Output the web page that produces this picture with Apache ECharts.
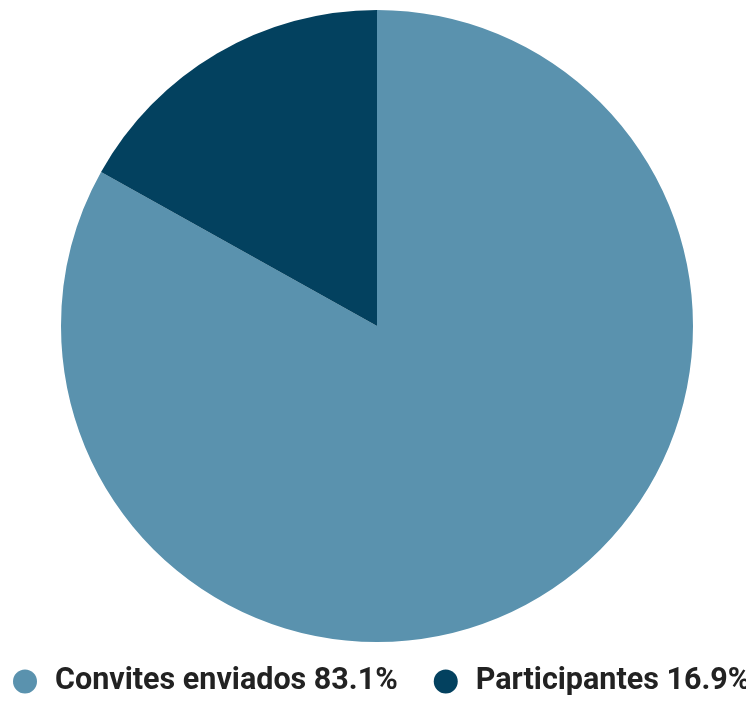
<!DOCTYPE html>
<html><head><meta charset="utf-8">
<script src="https://cdn.jsdelivr.net/npm/echarts@6/dist/echarts.min.js"></script>
<style>html,body{margin:0;padding:0;background:#fff}#c{width:746px;height:702px}</style>
</head><body><div id="c"></div>
<script>
const categories = ['Convites enviados', 'Participantes'];
const values = [83.1, 16.9];
const colors = ['#5a92ae', '#03415f'];
const chart = echarts.init(document.getElementById('c'));
chart.setOption({
  animation: false,
  legend: {
    top: 666,
    left: 13,
    width: 900,
    padding: 0,
    icon: 'circle',
    itemWidth: 24,
    itemHeight: 24,
    itemGap: 36,
    textStyle: {fontFamily: 'Roboto', fontWeight: 'bold', fontSize: 30.5, color: '#222', padding: [0, 0, 0, 13]},
    formatter: function (name) {
      const i = categories.indexOf(name);
      return name + ' ' + values[i].toFixed(1) + '%';
    }
  },
  series: [{
    type: 'pie',
    center: [377, 326],
    radius: 316,
    startAngle: 90,
    clockwise: true,
    label: {show: false},
    labelLine: {show: false},
    itemStyle: {borderWidth: 0},
    data: categories.map((c, i) => ({name: c, value: values[i], itemStyle: {color: colors[i]}}))
  }]
});
</script></body></html>
